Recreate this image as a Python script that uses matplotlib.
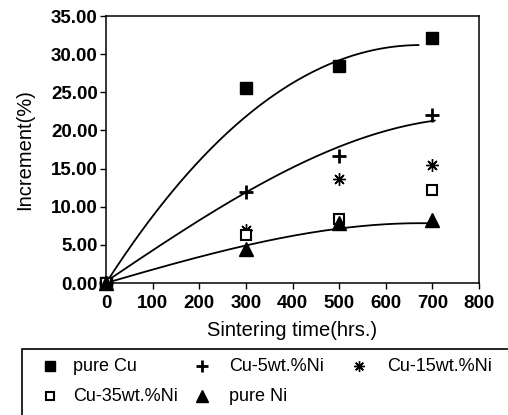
import numpy as np
import matplotlib
matplotlib.use("Agg")
import matplotlib.pyplot as plt
from matplotlib.lines import Line2D
from matplotlib.patches import Rectangle

plt.rcParams['font.family'] = ['Liberation Sans', 'DejaVu Sans']

# ---- data ----
times = [0, 300, 500, 700]
pure_cu = [0, 25.6, 28.5, 32.1]
cu_5ni = [0, 11.9, 16.7, 22.0]
cu_15ni = [0, 6.9, 13.6, 15.5]
cu_35ni = [0, 6.3, 8.4, 12.2]
pure_ni = [0, 4.4, 7.9, 8.3]

# trend curves
curve_top_t = [0, 50, 100, 150, 200, 250, 300, 350, 400, 450, 500, 550, 600, 670]
curve_top_v = [0, 4.5, 8.8, 12.6, 16.0, 19.1, 21.8, 24.2, 26.2, 27.9, 29.2, 30.2, 30.8, 31.2]
curve_mid_t = [0, 50, 100, 150, 200, 250, 300, 350, 400, 450, 500, 550, 600, 650, 705]
curve_mid_v = [0, 2.3, 4.5, 6.4, 8.2, 10.0, 11.8, 13.5, 15.0, 16.5, 17.9, 19.1, 20.1, 20.8, 21.1]
curve_bot_t = [0, 50, 100, 150, 200, 250, 300, 350, 400, 450, 500, 550, 600, 650, 700]
curve_bot_v = [0, 0.9, 1.75, 2.6, 3.4, 4.2, 4.9, 5.6, 6.2, 6.7, 7.15, 7.45, 7.7, 7.8, 7.85]

x_ticks = [0, 100, 200, 300, 400, 500, 600, 700, 800]
y_ticks = [0, 5, 10, 15, 20, 25, 30, 35]
labels = ['pure Cu', 'Cu-5wt.%Ni', 'Cu-15wt.%Ni', 'Cu-35wt.%Ni', 'pure Ni']

W, H = 508, 415
fig = plt.figure(figsize=(W / 100, H / 100), dpi=100)
ax = fig.add_axes([106 / W, 1 - 283 / H, (479 - 106) / W, (283 - 16) / H])

# trend lines: smooth polynomial trendline through the read-off curve points
for t, v in [(curve_top_t, curve_top_v), (curve_mid_t, curve_mid_v), (curve_bot_t, curve_bot_v)]:
    coef = np.polyfit(t, v, 3)
    tt = np.linspace(t[0], t[-1], 200)
    ax.plot(tt, np.polyval(coef, tt), color='black', lw=1.3)

styles = [
    dict(marker='s', ms=8, mfc='black', mec='black'),
    dict(marker='+', ms=10, mew=2, mec='black'),
    dict(marker=(8, 2, 0), ms=9, mew=1.0, mec='black'),
    dict(marker='s', ms=7.5, mfc='white', mec='black', mew=1.5),
    dict(marker='^', ms=10, mfc='black', mec='black'),
]
series = [pure_cu, cu_5ni, cu_15ni, cu_35ni, pure_ni]
for s, st, lab in zip(series, styles, labels):
    ax.plot(times, s, ls='none', label=lab, zorder=3, clip_on=False, **st)

ax.set_xlim(0, 800)
ax.set_ylim(0, 35)
ax.set_xticks(x_ticks)
ax.set_yticks(y_ticks)
ax.set_yticklabels([f"{v:.2f}" for v in y_ticks])
ax.tick_params(direction='out', length=4, width=1, labelsize=13.5)
ax.tick_params(axis='x', pad=5)
ax.tick_params(axis='y', pad=2)
for lab in ax.get_xticklabels() + ax.get_yticklabels():
    lab.set_fontweight('bold')
for sp in ax.spines.values():
    sp.set_linewidth(1.1)

ax.set_xlabel('Sintering time(hrs.)', fontsize=14.5, labelpad=6)
ax.set_ylabel('Increment(%)', fontsize=14.5, labelpad=12)

# legend box (extends past right and bottom edges)
fig.add_artist(Rectangle((22 / W, -0.05), 1.0, (1 - 349 / H) + 0.05,
                         transform=fig.transFigure, fill=False, lw=1.2, ec='black'))

leg_pos = [(50, 73, 366), (202, 229, 366), (359, 387, 366), (50, 73, 396), (202, 229, 396)]
for (mx, tx, y), st, lab in zip(leg_pos, styles, labels):
    st2 = dict(st)
    st2['ms'] = st2['ms'] * 0.85
    fig.add_artist(Line2D([mx / W], [1 - y / H], transform=fig.transFigure, ls='none', **st2))
    fig.text(tx / W, 1 - y / H, lab, fontsize=13, va='center', ha='left')

fig.savefig('out.png', dpi=100)
